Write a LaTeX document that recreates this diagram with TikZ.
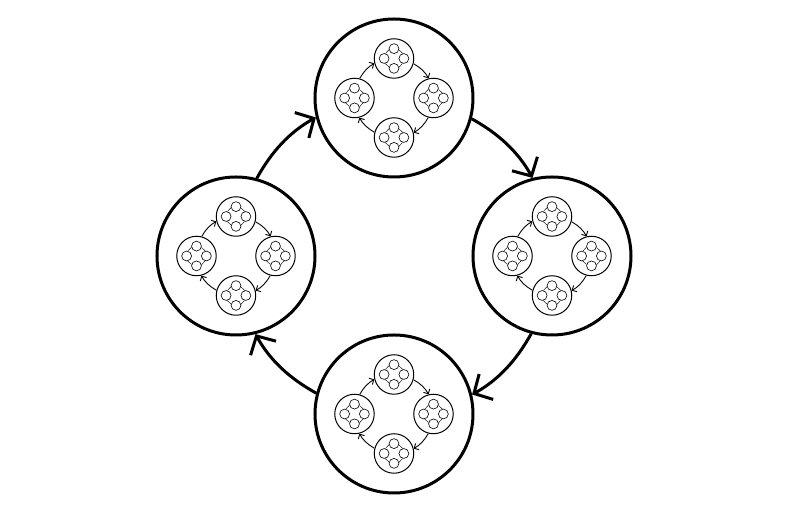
\documentclass[tikz,border=0pt]{standalone}
\usepackage{tikz}
\usetikzlibrary{calc}
\usetikzlibrary{arrows.meta}
\newcommand{\sizebig}{79pt}
\newcommand{\sizemid}{19.75pt}
\newcommand{\sizesmall}{4.94pt}
\tikzset{
    ring/.style={draw, circle, inner sep=0pt, fill=white},
    bigring/.style={ring, line width=1.5pt, minimum size=\sizebig},
    midring/.style={ring, line width=0.5pt, minimum size=\sizemid},
    smallring/.style={ring, line width=0.3pt, minimum size=\sizesmall},
    % arc of the cycle circle, leaving the ring at angle #1
    cycle/.style={out=#1-118.96, in=#1+28.96, looseness=0.91},
    biglink/.style={line width=1.5pt, -{Straight Barb[length=7pt,width=14.5pt]}},
    midlink/.style={line width=0.45pt, -{Straight Barb[length=1.8pt,width=3.6pt]}},
    smalllink/.style={line width=0.25pt}
}

\begin{document}
\begin{tikzpicture}[x=0.5pt, y=0.5pt]
    \useasboundingbox (-394,-256) rectangle (394,256);

    \foreach \a/\p in {90/t, 0/r, 270/b, 180/l} {
        \node[bigring] (\p) at (\a:158) {};
        \foreach \b/\q in {90/t, 0/r, 270/b, 180/l} {
            \node[midring] (\p\q) at ($(\p)+(\b:39.5)$) {};
            \foreach \c/\s in {90/t, 0/r, 270/b, 180/l}
                \node[smallring] (\p\q\s) at ($(\p\q)+(\c:9.875)$) {};
            \foreach \u/\v/\e [evaluate=\e as \sa using {mod(\e+255.5,360)},
                               evaluate=\e as \ea using {mod(\e+14.5,360)}]
                    in {l/t/180, t/r/90, r/b/0, b/l/270}
                \draw[smalllink] (\p\q\u.\sa) to[cycle=\e] (\p\q\v.\ea);
        }
        \foreach \u/\v/\e [evaluate=\e as \sa using {mod(\e+255.5,360)},
                           evaluate=\e as \ea using {mod(\e+14.5,360)}]
                in {l/t/180, t/r/90, r/b/0, b/l/270}
            \draw[midlink] (\p\u.\sa) to[cycle=\e] (\p\v.\ea);
    }

    % outer cycle
    \foreach \u/\v/\e [evaluate=\e as \sa using {mod(\e+255.5,360)},
                       evaluate=\e as \ea using {mod(\e+14.5,360)}]
            in {l/t/180, t/r/90, r/b/0, b/l/270}
        \draw[biglink] (\u.\sa) to[cycle=\e] (\v.\ea);
\end{tikzpicture}
\end{document}
